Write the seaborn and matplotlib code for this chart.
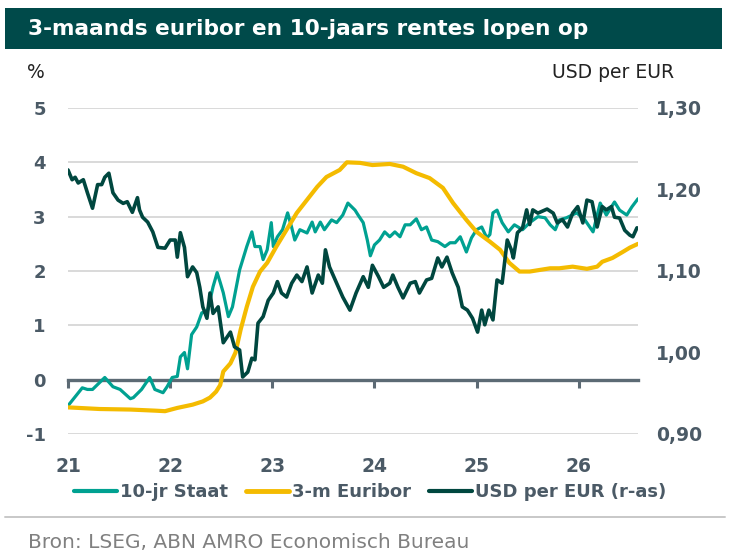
import matplotlib
matplotlib.use('Agg')
import matplotlib.pyplot as plt
from matplotlib.lines import Line2D
from matplotlib.patches import Rectangle
import seaborn as sns
import pandas as pd

# 10-jaars staatsrente (%)
staat_jaar = [21.00, 21.14, 21.19, 21.24, 21.36, 21.44, 21.51, 21.61, 21.64, 21.72, 21.80, 21.85,
              21.93, 21.97, 22.02, 22.07, 22.10, 22.14, 22.17, 22.21, 22.26, 22.31, 22.34, 22.37,
              22.42, 22.46, 22.49, 22.52, 22.57, 22.61, 22.68, 22.75, 22.80, 22.83, 22.88, 22.91,
              22.95, 22.99, 23.01, 23.05, 23.10, 23.15, 23.19, 23.22, 23.27, 23.34, 23.39, 23.42,
              23.47, 23.51, 23.58, 23.63, 23.69, 23.74, 23.81, 23.84, 23.89, 23.93, 23.96, 24.00,
              24.05, 24.10, 24.15, 24.20, 24.25, 24.30, 24.35, 24.41, 24.46, 24.51, 24.56, 24.62,
              24.69, 24.74, 24.79, 24.84, 24.90, 24.95, 25.00, 25.05, 25.10, 25.13, 25.16, 25.20,
              25.25, 25.31, 25.37, 25.45, 25.52, 25.60, 25.67, 25.72, 25.77, 25.81, 25.88, 25.98,
              26.06, 26.14, 26.21, 26.27, 26.35, 26.40, 26.47, 26.52, 26.58]
staat = [-0.48, -0.15, -0.18, -0.18, 0.04, -0.13, -0.18, -0.35, -0.33, -0.18, 0.04, -0.18,
         -0.24, -0.13, 0.04, 0.06, 0.42, 0.50, 0.20, 0.83, 0.97, 1.23, 1.25, 1.29,
         1.71, 1.97, 1.79, 1.60, 1.16, 1.34, 2.02, 2.45, 2.72, 2.45, 2.45, 2.21,
         2.39, 2.89, 2.45, 2.63, 2.76, 3.07, 2.80, 2.57, 2.76, 2.70, 2.90, 2.72,
         2.90, 2.76, 2.94, 2.89, 3.03, 3.25, 3.12, 3.03, 2.89, 2.57, 2.28, 2.48,
         2.57, 2.72, 2.63, 2.72, 2.63, 2.85, 2.85, 2.96, 2.76, 2.81, 2.57, 2.54,
         2.45, 2.52, 2.52, 2.63, 2.35, 2.61, 2.76, 2.81, 2.61, 2.67, 3.07, 3.12,
         2.89, 2.72, 2.85, 2.76, 2.89, 3.00, 2.98, 2.85, 2.76, 2.94, 2.98, 3.07,
         2.94, 2.72, 3.25, 3.03, 3.27, 3.12, 3.03, 3.18, 3.33]

# 3-maands euribor (%)
euribor_jaar = [21.00, 21.31, 21.61, 21.85, 21.95, 22.07, 22.22, 22.32, 22.39, 22.45, 22.49, 22.52,
                22.59, 22.64, 22.69, 22.75, 22.81, 22.88, 22.95, 23.04, 23.14, 23.24, 23.34, 23.44,
                23.53, 23.66, 23.73, 23.86, 23.98, 24.15, 24.28, 24.41, 24.54, 24.67, 24.77, 24.90,
                25.00, 25.13, 25.23, 25.32, 25.42, 25.52, 25.62, 25.72, 25.81, 25.94, 26.08, 26.18,
                26.23, 26.33, 26.43, 26.50, 26.58]
euribor = [-0.51, -0.54, -0.55, -0.57, -0.58, -0.52, -0.46, -0.40, -0.33, -0.22, -0.10, 0.15,
           0.30, 0.50, 0.92, 1.34, 1.71, 1.99, 2.15, 2.45, 2.76, 3.07, 3.31, 3.55,
           3.73, 3.86, 4.00, 3.99, 3.95, 3.97, 3.92, 3.80, 3.71, 3.53, 3.25, 2.94,
           2.72, 2.54, 2.39, 2.15, 1.99, 1.99, 2.02, 2.05, 2.05, 2.08, 2.04, 2.08,
           2.17, 2.24, 2.35, 2.43, 2.50]

# USD per EUR (rechteras)
usd_jaar = [21.00, 21.04, 21.07, 21.10, 21.15, 21.19, 21.24, 21.29, 21.33, 21.36, 21.40, 21.44,
            21.49, 21.54, 21.58, 21.63, 21.68, 21.70, 21.73, 21.78, 21.83, 21.88, 21.95, 22.00,
            22.05, 22.07, 22.10, 22.14, 22.17, 22.22, 22.26, 22.29, 22.32, 22.36, 22.39, 22.42,
            22.47, 22.52, 22.59, 22.63, 22.68, 22.71, 22.76, 22.80, 22.83, 22.86, 22.91, 22.96,
            23.01, 23.05, 23.09, 23.14, 23.19, 23.24, 23.29, 23.34, 23.39, 23.45, 23.49, 23.52,
            23.56, 23.63, 23.69, 23.76, 23.82, 23.89, 23.94, 23.98, 24.04, 24.09, 24.15, 24.18,
            24.23, 24.28, 24.35, 24.40, 24.44, 24.51, 24.56, 24.62, 24.66, 24.71, 24.76, 24.82,
            24.86, 24.91, 24.96, 25.01, 25.05, 25.08, 25.12, 25.16, 25.20, 25.25, 25.30, 25.34,
            25.36, 25.40, 25.45, 25.49, 25.52, 25.55, 25.60, 25.69, 25.75, 25.79, 25.84, 25.89,
            25.94, 25.99, 26.04, 26.08, 26.13, 26.18, 26.23, 26.27, 26.32, 26.35, 26.40, 26.45,
            26.50, 26.53, 26.57]
usd = [1.224, 1.212, 1.215, 1.208, 1.212, 1.196, 1.177, 1.206, 1.206, 1.215, 1.220, 1.196,
       1.187, 1.183, 1.185, 1.172, 1.190, 1.175, 1.166, 1.160, 1.148, 1.129, 1.128, 1.138,
       1.138, 1.117, 1.147, 1.129, 1.093, 1.105, 1.098, 1.080, 1.056, 1.042, 1.073, 1.048,
       1.056, 1.012, 1.025, 1.007, 1.003, 0.970, 0.976, 0.993, 0.991, 1.036, 1.044, 1.064,
       1.073, 1.087, 1.073, 1.068, 1.085, 1.095, 1.087, 1.105, 1.073, 1.095, 1.085, 1.126,
       1.105, 1.085, 1.068, 1.052, 1.073, 1.093, 1.080, 1.107, 1.093, 1.080, 1.085, 1.095,
       1.080, 1.067, 1.085, 1.087, 1.073, 1.089, 1.091, 1.116, 1.105, 1.117, 1.098, 1.080,
       1.056, 1.052, 1.042, 1.025, 1.052, 1.034, 1.052, 1.040, 1.089, 1.085, 1.138, 1.126,
       1.116, 1.147, 1.153, 1.175, 1.157, 1.175, 1.171, 1.176, 1.171, 1.159, 1.163, 1.154,
       1.171, 1.179, 1.159, 1.187, 1.185, 1.154, 1.179, 1.175, 1.179, 1.166, 1.165, 1.150,
       1.144, 1.142, 1.153]

jaar_ticks = [21, 22, 23, 24, 25, 26]
links_ticks = [-1, 0, 1, 2, 3, 4, 5]
rechts_ticks = [0.90, 1.00, 1.10, 1.20, 1.30]

TEAL = '#00a191'
GEEL = '#f4bb00'
DONKER = '#00473f'
GRIJS = '#4b5a66'
AS = '#5c6a74'

sns.set_theme(style='white')
plt.rcParams['font.family'] = ['DejaVu Sans']

df_staat = pd.DataFrame({'jaar': staat_jaar, 'waarde': staat})
df_euribor = pd.DataFrame({'jaar': euribor_jaar, 'waarde': euribor})
df_usd = pd.DataFrame({'jaar': usd_jaar, 'waarde': usd})

fig = plt.figure(figsize=(7.32, 5.58), dpi=100)
ax = fig.add_axes([68 / 732, 1 - 434 / 558, 570 / 732, 326 / 558])
ax2 = ax.twinx()

sns.lineplot(data=df_staat, x='jaar', y='waarde', ax=ax, color=TEAL, linewidth=2.3, zorder=3)
sns.lineplot(data=df_euribor, x='jaar', y='waarde', ax=ax, color=GEEL, linewidth=3.0, zorder=4)
sns.lineplot(data=df_usd, x='jaar', y='waarde', ax=ax2, color=DONKER, linewidth=2.6)

ax.set_xlim(21, 26.58)
ax.set_ylim(-1, 5)
ax2.set_ylim(0.90, 1.30)

# rasterlijnen behalve de nul-as
for v in links_ticks:
    if v != 0:
        ax.axhline(v, color='#d9d9d9', linewidth=1.4, zorder=1)

for s in ['top', 'left', 'right']:
    ax.spines[s].set_visible(False)
for s in ax2.spines.values():
    s.set_visible(False)
ax.spines['bottom'].set_position(('data', 0))
ax.spines['bottom'].set_color(AS)
ax.spines['bottom'].set_linewidth(2.4)
ax.spines['bottom'].set_zorder(2)

ax.set_xticks(jaar_ticks)
ax.set_xticklabels([str(j) for j in jaar_ticks])
ax.tick_params(axis='x', bottom=True, direction='out', length=6, width=2.2, color=AS, pad=50,
               labelsize=13.5, labelcolor=GRIJS)
ax.set_yticks(links_ticks)
ax.set_yticklabels([str(v) for v in links_ticks])
ax.tick_params(axis='y', length=0, pad=16, labelsize=13, labelcolor=GRIJS)
ax2.set_yticks(rechts_ticks)
ax2.set_yticklabels([f'{v:.2f}'.replace('.', ',') for v in rechts_ticks])
ax2.tick_params(axis='y', length=0, pad=13, labelsize=13.5, labelcolor=GRIJS)
for lbl in ax.get_xticklabels() + ax.get_yticklabels() + ax2.get_yticklabels():
    lbl.set_fontweight('bold')
ax.set_xlabel('')
ax.set_ylabel('')
ax2.set_ylabel('')
ax.grid(False)
ax2.grid(False)

# titelbalk
fig.add_artist(Rectangle((5 / 732, 1 - 49 / 558), 717 / 732, 41 / 558,
                         transform=fig.transFigure, facecolor='#004a4a', edgecolor='none'))
fig.text(28 / 732, 1 - 29 / 558, '3-maands euribor en 10-jaars rentes lopen op',
         color='white', fontsize=15.6, fontweight='bold', va='center', ha='left')

fig.text(27 / 732, 1 - 73 / 558, '%', fontsize=13.5, color='#222222', va='center', ha='left')
fig.text(674 / 732, 1 - 73 / 558, 'USD per EUR', fontsize=13.5, color='#222222',
         va='center', ha='right')

# legenda
handles = [Line2D([], [], color=TEAL, linewidth=3),
           Line2D([], [], color=GEEL, linewidth=3.5),
           Line2D([], [], color=DONKER, linewidth=3)]
labels = ['10-jr Staat', '3-m Euribor', 'USD per EUR (r-as)']
leg = fig.legend(handles, labels, loc='center', bbox_to_anchor=(370 / 732, 1 - 492 / 558),
                 ncol=3, frameon=False, handlelength=2.4, handletextpad=0.15,
                 columnspacing=1.0, prop={'weight': 'bold', 'size': 13})
for t in leg.get_texts():
    t.set_color(GRIJS)

fig.add_artist(Line2D([5 / 732, 725 / 732], [1 - 517 / 558] * 2, color='#c8c8c8',
                      linewidth=1.4, transform=fig.transFigure))
fig.text(28 / 732, 1 - 543 / 558, 'Bron: LSEG, ABN AMRO Economisch Bureau',
         fontsize=14.5, color='#808080', va='center', ha='left')

fig.savefig('out.png', dpi=100)
